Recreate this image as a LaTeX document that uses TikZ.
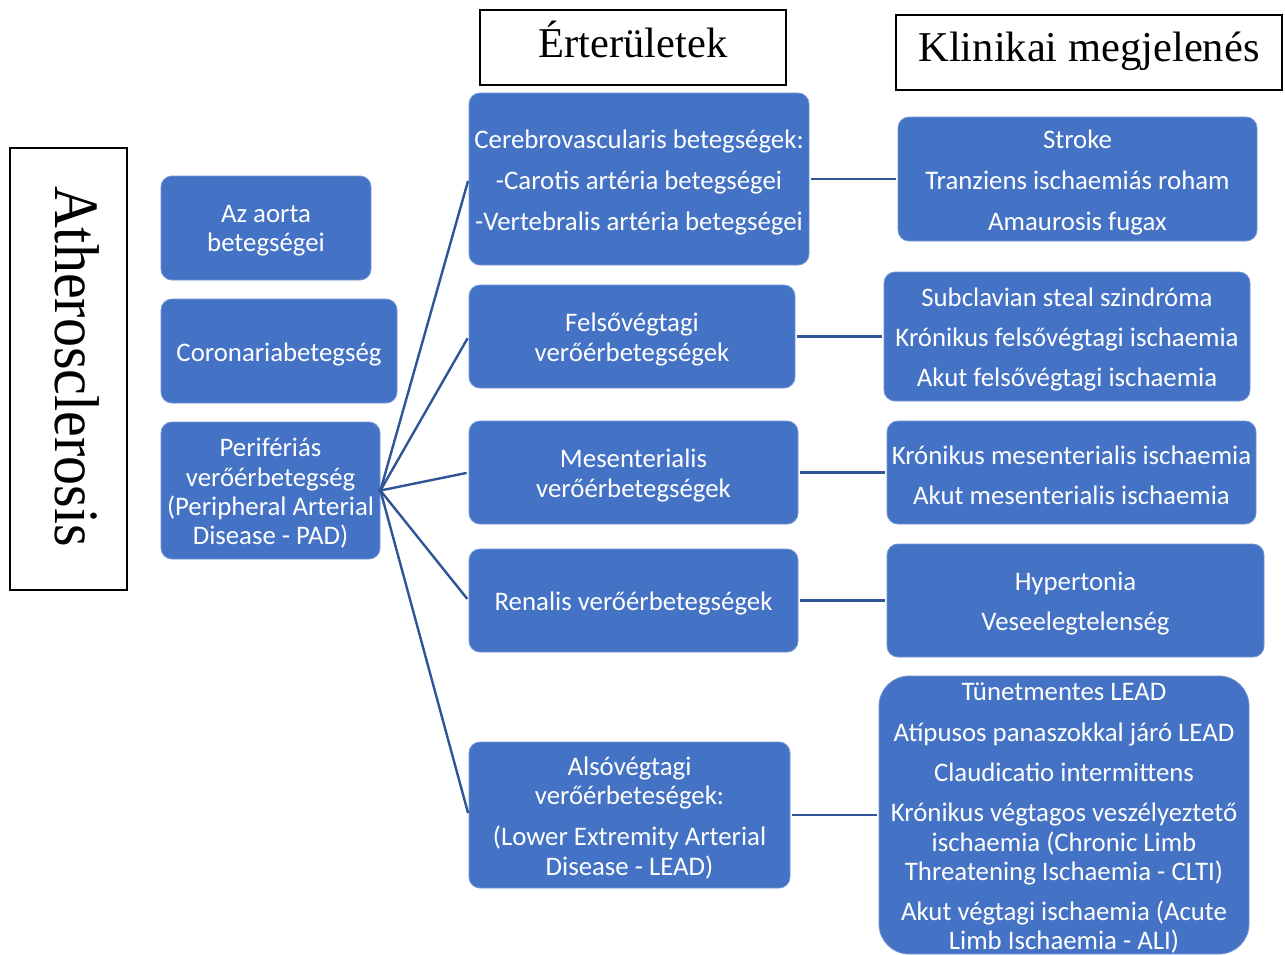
\documentclass[tikz,border=0pt]{standalone}
\usepackage{fontspec}
\setmainfont{Liberation Serif}
\newfontfamily\carl{Carlito}
\definecolor{boxblue}{HTML}{4472C4}
\definecolor{lineblue}{HTML}{2F5597}
\tikzset{
  bluebox/.style={fill=boxblue, draw=boxblue!75!white, line width=0.8pt, rounded corners=11pt, inner sep=0pt},
  boxtext/.style={inner sep=0pt, align=center, text=white, font=\carl\fontsize{26.8}{29.3}\selectfont, yshift=-3pt},
  titlebox/.style={draw=black, line width=1.1pt, inner sep=0pt},
  titletext/.style={anchor=base, inner sep=0pt, font=\fontsize{42.5}{48}\selectfont},
  conn/.style={draw=lineblue, line width=2.4pt, shorten >=2pt, shorten <=2pt},
}
\begin{document}
\begin{tikzpicture}[x=1pt,y=-1pt]
\fill[white] (0,0) rectangle (1285,954);
\useasboundingbox (0,0) rectangle (1285,954);

% titles
\node[titlebox, minimum width=117pt, minimum height=442pt] (ath) at (68.5,369) {};
\node[anchor=base, inner sep=0pt, rotate=-90, font=\fontsize{58}{64}\selectfont] (athtext) at (55,366.5) {\scalebox{1}[1.09]{Atherosclerosis}};
\node[titlebox, minimum width=306pt, minimum height=75pt] (ert) at (633,47.5) {};
\node[titletext] (erttext) at (633,57) {Érterületek};
\node[titlebox, minimum width=386pt, minimum height=75pt] (klin) at (1089,52.5) {};
\node[titletext] (klintext) at (1089,61) {Klinikai megjelenés};

% left column
\node[bluebox, minimum width=210pt, minimum height=104pt] (aorta) at (266,228) {};
\node[boxtext] (aortaT) at (aorta.center) {Az aorta\\betegségei};
\node[bluebox, minimum width=236pt, minimum height=104pt] (coro) at (279,351) {};
\node[boxtext] (coroT) at (coro.center) {Coronariabetegség};
\node[bluebox, minimum width=219pt, minimum height=137pt] (pad) at (270.5,490.5) {};
\node[boxtext] (padT) at (pad.center) {Perifériás\\verőérbetegség\\(Peripheral Arterial\\Disease - PAD)};

% middle column
\node[bluebox, minimum width=340pt, minimum height=172pt] (cereb) at (639,179) {};
\node[boxtext] (cerebT) at (cereb.center) {Cerebrovascularis betegségek:\\[11.7pt]-Carotis artéria betegségei\\[11.7pt]-Vertebralis artéria betegségei};
\node[bluebox, minimum width=326pt, minimum height=103pt] (felso) at (632,336.5) {};
\node[boxtext] (felsoT) at (felso.center) {Felsővégtagi\\verőérbetegségek};
\node[bluebox, minimum width=329pt, minimum height=103pt] (mes) at (633.5,472.5) {};
\node[boxtext] (mesT) at (mes.center) {Mesenterialis\\verőérbetegségek};
\node[bluebox, minimum width=329pt, minimum height=103pt] (ren) at (633.5,600.5) {};
\node[boxtext] (renT) at (ren.center) {Renalis verőérbetegségek};
\node[bluebox, minimum width=321pt, minimum height=146pt] (also) at (629.5,815) {};
\node[boxtext] (alsoT) at (also.center) {Alsóvégtagi\\verőérbeteségek:\\[11.7pt](Lower Extremity Arterial\\Disease - LEAD)};

% right column
\node[bluebox, minimum width=359pt, minimum height=124pt] (stroke) at (1077.5,179) {};
\node[boxtext] (strokeT) at (stroke.center) {Stroke\\[11.7pt]Tranziens ischaemiás roham\\[11.7pt]Amaurosis fugax};
\node[bluebox, minimum width=366pt, minimum height=129pt] (subcl) at (1067,336.5) {};
\node[boxtext] (subclT) at (subcl.center) {Subclavian steal szindróma\\[11pt]Krónikus felsővégtagi ischaemia\\[11pt]Akut felsővégtagi ischaemia};
\node[bluebox, minimum width=369pt, minimum height=103pt] (mesi) at (1071.5,472.5) {};
\node[boxtext] (mesiT) at (mesi.center) {Krónikus mesenterialis ischaemia\\[10.7pt]Akut mesenterialis ischaemia};
\node[bluebox, minimum width=377pt, minimum height=113pt] (hyp) at (1075.5,600.5) {};
\node[boxtext] (hypT) at (hyp.center) {Hypertonia\\[10.7pt]Veseelegtelenség};
\node[bluebox, rounded corners=30pt, minimum width=370pt, minimum height=278pt] (leadc) at (1064,815) {};
\node[boxtext] (leadcT) at (leadc.center) {Tünetmentes LEAD\\[11.7pt]Atípusos panaszokkal járó LEAD\\[11.2pt]Claudicatio intermittens\\[11pt]Krónikus végtagos veszélyeztető\\ischaemia (Chronic Limb\\Threatening Ischaemia - CLTI)\\[10.7pt]Akut végtagi ischaemia (Acute\\Limb Ischaemia - ALI)};

% connectors
\draw[conn, shorten <=-2pt] (pad.east) -- (cereb.west);
\draw[conn, shorten <=-2pt] (pad.east) -- (felso.west);
\draw[conn, shorten <=-2pt] (pad.east) -- (mes.west);
\draw[conn, shorten <=-2pt] (pad.east) -- (ren.west);
\draw[conn, shorten <=-2pt] (pad.east) -- (also.west);
\draw[conn] (cereb.east) -- (stroke.west);
\draw[conn] (felso.east) -- (subcl.west);
\draw[conn] (mes.east) -- (mesi.west);
\draw[conn] (ren.east) -- (hyp.west);
\draw[conn] (also.east) -- (leadc.west);
\end{tikzpicture}
\end{document}
